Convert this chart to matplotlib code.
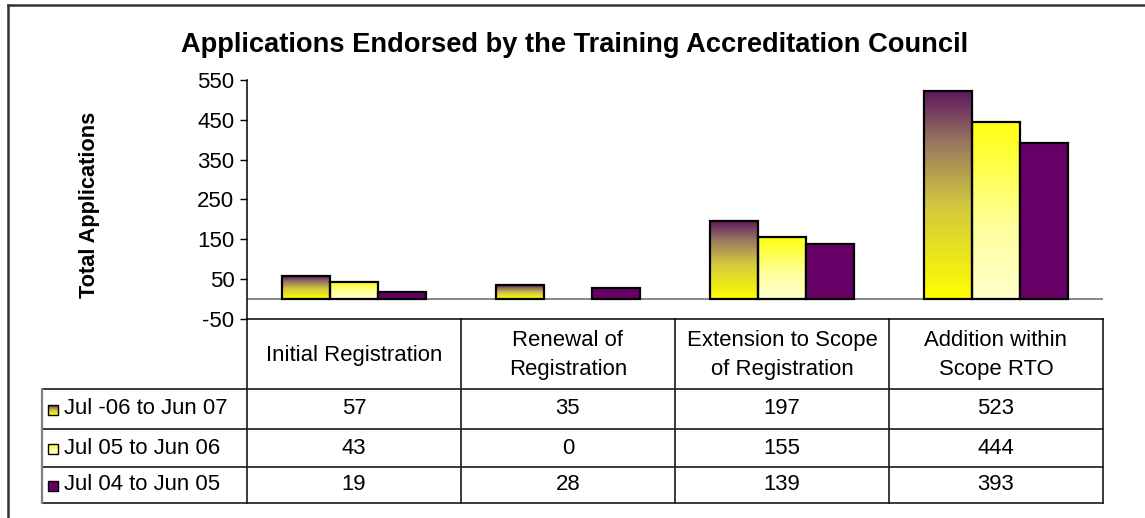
import numpy as np
import matplotlib.pyplot as plt
from matplotlib.colors import LinearSegmentedColormap

plt.rcParams['font.family'] = ['Liberation Sans', 'DejaVu Sans']
plt.rcParams['axes.unicode_minus'] = False

# Data
categories = ['Initial Registration', 'Renewal of\nRegistration',
              'Extension to Scope\nof Registration', 'Addition within\nScope RTO']
series_names = ['Jul -06 to Jun 07', 'Jul 05 to Jun 06', 'Jul 04 to Jun 05']
jul06_jun07 = [57, 35, 197, 523]
jul05_jun06 = [43, 0, 155, 444]
jul04_jun05 = [19, 28, 139, 393]
y_ticks = [-50, 50, 150, 250, 350, 450, 550]

series = [jul06_jun07, jul05_jun06, jul04_jun05]

# Fills: purple->yellow gradient, yellow->cream gradient, solid purple
cmap_a = LinearSegmentedColormap.from_list(
    'a', [(0.0, '#ffff00'), (0.45, '#d2c840'), (0.75, '#98785e'), (1.0, '#5e1660')])
cmap_b = LinearSegmentedColormap.from_list(
    'b', [(0.0, '#ffffcc'), (0.4, '#ffffa0'), (1.0, '#ffff10')])
fills = [cmap_a, cmap_b, '#660066']

W, H = 1145, 518
fig = plt.figure(figsize=(W / 100, H / 100), dpi=100)

# plot area (pixel layout of the original)
x_left, x_right, y_top, y_bot = 247, 1103, 80, 319
ax = fig.add_axes([x_left / W, 1 - y_bot / H, (x_right - x_left) / W, (y_bot - y_top) / H])

x = np.arange(len(categories))
width = 0.224
offsets = [-width, 0, width]
grad = np.linspace(0, 1, 256).reshape(-1, 1)

for vals, off, fill in zip(series, offsets, fills):
    solid = isinstance(fill, str)
    bars = ax.bar(x + off, vals, width, color=fill if solid else 'none',
                  edgecolor='black', linewidth=1.6, zorder=3)
    for b, v in zip(bars, vals):
        if v == 0:
            b.set_edgecolor('none')
            continue
        if not solid:
            x0, y0 = b.get_x(), b.get_y()
            im = ax.imshow(grad, extent=(x0, x0 + b.get_width(), y0, y0 + b.get_height()),
                           origin='lower', aspect='auto', cmap=fill, zorder=2,
                           interpolation='bilinear')
            im.set_clip_path(b)

ax.axhline(0, color='#808080', lw=1.3, zorder=1)
ax.set_xlim(-0.5, len(categories) - 0.5)
ax.set_ylim(-50, 550)
ax.set_yticks(y_ticks)
ax.set_xticks([])
ax.tick_params(axis='y', length=5, width=1, labelsize=16, pad=4)
for s in ['top', 'right']:
    ax.spines[s].set_visible(False)
ax.spines['left'].set_linewidth(1.1)
ax.spines['bottom'].set_linewidth(1.1)
ax.set_facecolor('none')

fig.text(575 / W, 1 - 45 / H, 'Applications Endorsed by the Training Accreditation Council',
         ha='center', va='center', fontsize=19.6, fontweight='bold')
fig.text(90 / W, 1 - 205 / H, 'Total Applications', rotation=90,
         ha='center', va='center', fontsize=15.7, fontweight='bold')

# data table underneath, drawn in pixel coordinates
tax = fig.add_axes([0, 0, 1, 1], zorder=-1)
tax.set_xlim(0, W)
tax.set_ylim(H, 0)
tax.axis('off')

col_edges = np.linspace(x_left, x_right, len(categories) + 1)
leg_left = 42
row_edges = [319, 389, 429, 467, 503]

lc = '#1a1a1a'
tax.plot([x_left, x_left], [row_edges[0], row_edges[-1]], color=lc, lw=1.2)
for xe in col_edges[1:]:
    tax.plot([xe, xe], [row_edges[0], row_edges[-1]], color=lc, lw=1.2)
for ye in row_edges[1:]:
    tax.plot([leg_left, x_right], [ye, ye], color=lc, lw=1.2)
tax.plot([leg_left, leg_left], [row_edges[1], row_edges[-1]], color='#808080', lw=1.6)

for i, cat in enumerate(categories):
    cx = (col_edges[i] + col_edges[i + 1]) / 2
    tax.text(cx, (row_edges[0] + row_edges[1]) / 2 + 1, cat, ha='center', va='center',
             fontsize=15.9, linespacing=1.45)
    for r, vals in enumerate(series):
        cy = (row_edges[r + 1] + row_edges[r + 2]) / 2
        tax.text(cx, cy, str(vals[i]), ha='center', va='center', fontsize=15.9)

# legend keys inside the table's first column
for r, (name, fill) in enumerate(zip(series_names, fills)):
    cy = (row_edges[r + 1] + row_edges[r + 2]) / 2
    k0, k1 = 48, 58
    if isinstance(fill, str):
        key = plt.Rectangle((k0, cy - 4), k1 - k0, 10, facecolor=fill, edgecolor='black', lw=1)
        tax.add_patch(key)
    else:
        tax.imshow(grad, extent=(k0, k1, cy + 6, cy - 4), origin='lower', aspect='auto',
                   cmap=fill, interpolation='bilinear')
        tax.add_patch(plt.Rectangle((k0, cy - 4), k1 - k0, 10, facecolor='none',
                                    edgecolor='black', lw=1))
    tax.text(64, cy, name, ha='left', va='center', fontsize=15.9)

tax.set_xlim(0, W)
tax.set_ylim(H, 0)

# outer chart frame (top and left edges visible)
tax.plot([8, W], [5, 5], color='#333333', lw=1.8)
tax.plot([8, 8], [5, H], color='#333333', lw=1.8)

fig.savefig('out.png', dpi=100)
